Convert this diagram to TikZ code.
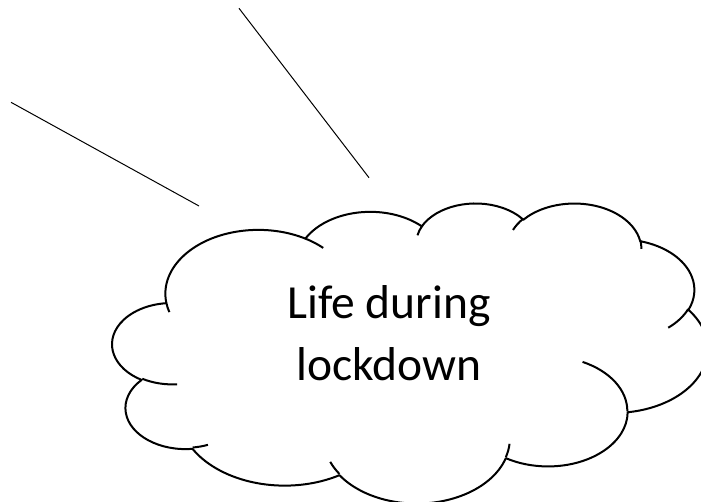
\documentclass[tikz,border=0pt]{standalone}
\usepackage{fontspec}
\setmainfont{Carlito}
\begin{document}
\begin{tikzpicture}[x=1pt,y=1pt,yscale=-1,
  declare function={pa(\ux,\uy,\ut)=\ut+mod(atan2(\ux*sin(\ut),\uy*cos(\ut))-\ut+540,360)-180;},
  cloudline/.style={line width=2pt, line join=round, line cap=butt},
  ray/.style={line width=1pt},
  label/.style={font=\fontsize{47.5}{62.4}\selectfont, align=center, inner sep=0pt}]
\useasboundingbox (0,0) rectangle (701,502);
% rays
\coordinate (r1a) at (11,102.3);
\coordinate (r1b) at (199,206);
\coordinate (r2a) at (239,8.3);
\coordinate (r2b) at (369,177.7);
\draw[ray] (r1a) -- (r1b);
\draw[ray] (r2a) -- (r2b);
% cloud (preset cloud geometry, 43200 units / 100)
\begin{scope}
\clip (0,0) rectangle (701,502);
\begin{scope}[shift={(112.5,202.5)}, xscale=1.37731, yscale=0.69444]
\draw[cloudline] (39.00,143.70)
  arc[x radius=67.53, y radius=91.90, start angle={pa(67.53,91.90,-190.48748)}, end angle={pa(67.53,91.90,-66.70695)}]
  arc[x radius=53.33, y radius=72.67, start angle={pa(53.33,72.67,-144.10238)}, end angle={pa(53.33,72.67,-54.15715)}]
  arc[x radius=43.65, y radius=59.45, start angle={pa(43.65,59.45,-145.80792)}, end angle={pa(43.65,59.45,-46.08490)}]
  arc[x radius=48.57, y radius=65.95, start angle={pa(48.57,65.95,-130.98607)}, end angle={pa(48.57,65.95,-13.74433)}]
  arc[x radius=53.33, y radius=72.73, start angle={pa(53.33,72.73,-78.70888)}, end angle={pa(53.33,72.73,30.31804)}]
  arc[x radius=67.75, y radius=92.20, start angle={pa(67.75,92.20,-46.26725)}, end angle={pa(67.75,92.20,84.00175)}]
  arc[x radius=57.85, y radius=78.67, start angle={pa(57.85,78.67,0.62502)}, end angle={pa(57.85,78.67,114.65835)}]
  arc[x radius=67.52, y radius=92.15, start angle={pa(67.52,92.15,22.45160)}, end angle={pa(67.52,92.15,137.62415)}]
  arc[x radius=77.20, y radius=105.43, start angle={pa(77.20,105.43,66.24263)}, end angle={pa(77.20,105.43,141.95365)}]
  arc[x radius=43.60, y radius=59.18, start angle={pa(43.60,59.18,-274.94208)}, end angle={pa(43.60,59.18,-128.20651)}]
  arc[x radius=43.45, y radius=59.45, start angle={pa(43.45,59.45,-246.82850)}, end angle={pa(43.45,59.45,-94.30965)}]
  -- cycle;
\draw[cloudline]
  (46.93,261.77) arc[x radius=43.45, y radius=59.45, start angle={pa(43.45,59.45,86.742)}, end angle={pa(43.45,59.45,113.1715)}]
  (69.28,348.99) arc[x radius=43.60, y radius=59.18, start angle={pa(43.60,59.18,73.61047)}, end angle={pa(43.60,59.18,85.05793)}]
  (164.78,390.90) arc[x radius=67.52, y radius=92.15, start angle={pa(67.52,92.15,137.62415)}, end angle={pa(67.52,92.15,151.70525)}]
  (288.27,347.51) arc[x radius=67.52, y radius=92.15, start angle={pa(67.52,92.15,6.45327)}, end angle={pa(67.52,92.15,22.45162)}]
  (341.29,229.54) arc[x radius=57.85, y radius=78.67, start angle={pa(57.85,78.67,-70.29235)}, end angle={pa(57.85,78.67,0.62502)}]
  (417.98,153.54) arc[x radius=53.33, y radius=72.73, start angle={pa(53.33,72.73,30.31804)}, end angle={pa(53.33,72.73,58.06954)}]
  (383.24,54.26) arc[x radius=48.57, y radius=65.95, start angle={pa(48.57,65.95,-13.74433)}, end angle={pa(48.57,65.95,1.11457)}]
  (290.78,39.52) arc[x radius=48.57, y radius=65.95, start angle={pa(48.57,65.95,-149.18145)}, end angle={pa(48.57,65.95,-130.98608)}]
  (221.41,47.20) arc[x radius=43.65, y radius=59.45, start angle={pa(43.65,59.45,-163.49427)}, end angle={pa(43.65,59.45,-145.80792)}]
  (140.00,51.92) arc[x radius=67.53, y radius=91.90, start angle={pa(67.53,91.90,-66.70695)}, end angle={pa(67.53,91.90,-54.3876)}]
  (41.27,157.89) arc[x radius=67.53, y radius=91.90, start angle={pa(67.53,91.90,157.65435)}, end angle={pa(67.53,91.90,169.51252)}];
\end{scope}
\end{scope}
\node[label, anchor=base] (title) at (389,380.7) {Life during\\lockdown};
\end{tikzpicture}
\end{document}
